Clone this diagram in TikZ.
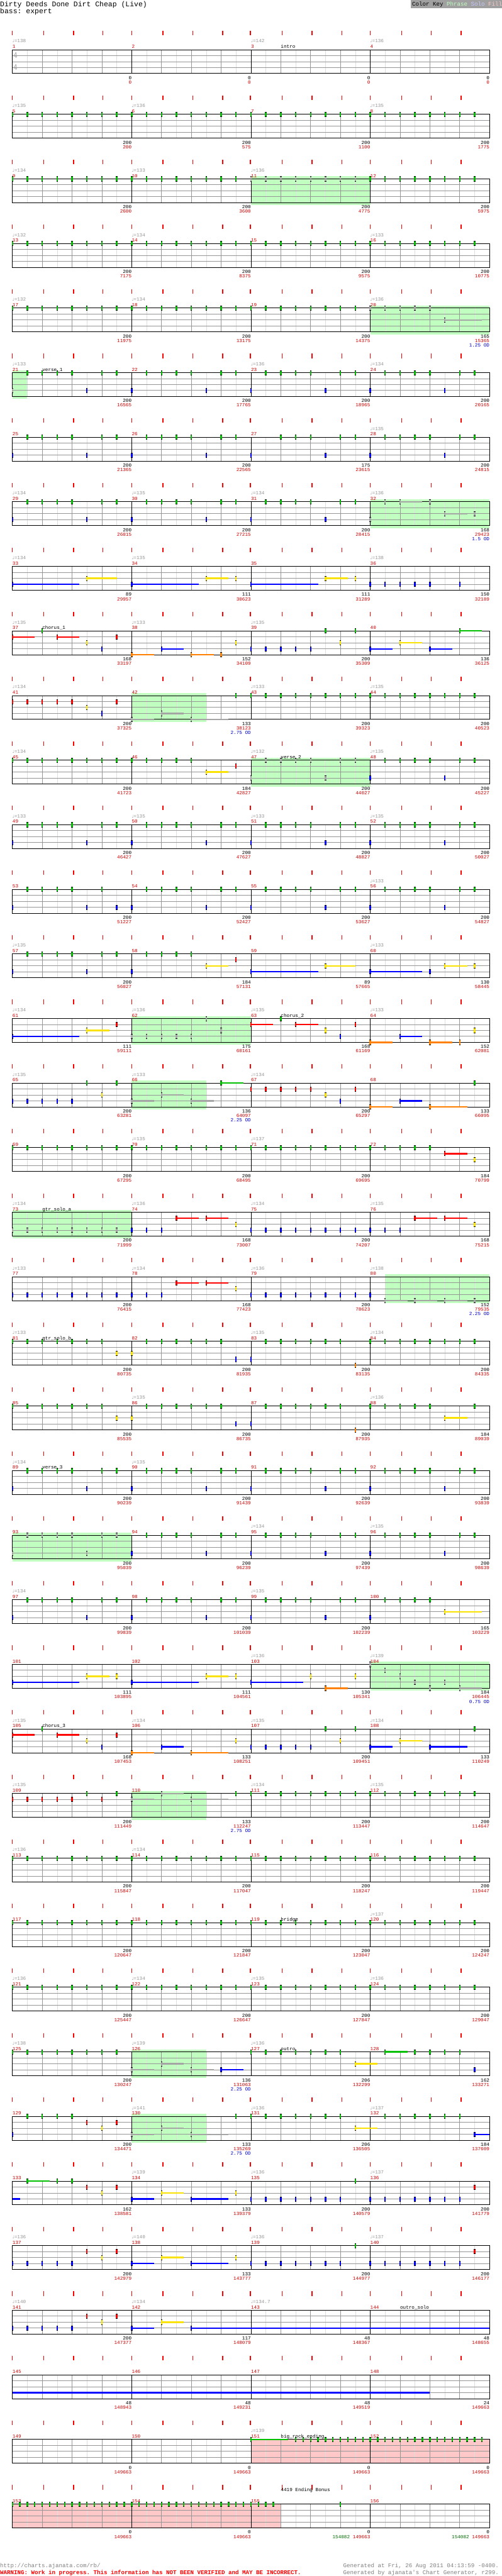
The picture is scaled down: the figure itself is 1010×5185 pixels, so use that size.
\documentclass[tikz,border=0pt]{standalone}
\usepackage{fontspec}
\setmonofont{Liberation Mono}
\newfontfamily\symfont{DejaVu Sans}
\usepackage{tikz}

\definecolor{lane0}{RGB}{0,192,0}
\definecolor{lane1}{RGB}{255,0,0}
\definecolor{lane2}{RGB}{250,226,0}
\definecolor{lane3}{RGB}{0,0,255}
\definecolor{lane4}{RGB}{255,128,0}
\definecolor{starg}{RGB}{165,165,165}
\definecolor{phrasecol}{RGB}{192,255,192}
\definecolor{fillcol}{RGB}{255,200,200}
\definecolor{solocol}{RGB}{200,200,255}
\definecolor{tickred}{RGB}{255,0,0}
\definecolor{mnumred}{RGB}{204,0,0}
\definecolor{tempogray}{RGB}{150,150,150}
\definecolor{odblue}{RGB}{0,0,204}
\definecolor{bonusgreen}{RGB}{0,110,0}
\definecolor{gridbeat}{RGB}{150,150,150}
\definecolor{gridsub}{RGB}{222,222,222}
\definecolor{keybg}{RGB}{160,160,160}
\definecolor{footgray}{RGB}{128,128,128}

\newcommand{\chartsize}{\fontsize{9.7}{10}\selectfont}
\newcommand{\tnote}{{\symfont\fontsize{8}{8}\selectfont ♩}}

% current row: top edge of the staff and row index
\newcommand{\setrow}[1]{\pgfmathtruncatemacro\rowtmp{100+130*#1}\xdef\ry{\rowtmp}\xdef\rk{#1}}
% one note (lane 0..4, position in eighths)
\newcommand{\nt}[3][]{%
  \pgfmathsetmacro\nx{25+30*(#3)}%
  \pgfmathsetmacro\ny{\ry+12*(#2)}%
  \fill[lane#2,#1] (\nx-1.5,\ny-5) rectangle (\nx+1.5,\ny+5);%
  \fill[notecap] (\nx-1.5,\ny-5) rectangle (\nx+1.5,\ny-4);%
  \fill[notecap] (\nx-1.5,\ny+4) rectangle (\nx+1.5,\ny+5);}
% sustained note
\newcommand{\sus}[4][]{%
  \pgfmathsetmacro\nx{25+30*(#3)}%
  \pgfmathsetmacro\qx{25+30*(#4)}%
  \pgfmathsetmacro\ny{\ry+12*(#2)}%
  \fill[lane#2,#1] (\nx,\ny-1.5) rectangle (\qx,\ny+1.5);%
  \nt[#1]{#2}{#3}}
% sustain carried over from the row above
\newcommand{\tail}[3]{%
  \pgfmathsetmacro\nx{25+30*(#2)}%
  \pgfmathsetmacro\qx{25+30*(#3)}%
  \pgfmathsetmacro\ny{\ry+12*(#1)}%
  \fill[lane#1] (\nx,\ny-1.5) rectangle (\qx,\ny+1.5);}
\newcommand{\run}[4][]{\foreach \p in {#3,...,#4} {\nt[#1]{#2}{\p}}}
\newcommand{\notes}[3][]{\foreach \p in {#3} {\nt[#1]{#2}{\p}}}
\newcommand{\stdbar}[2][]{%
  \foreach \p in {0,5} {\nt[#1]{3}{8*#2+\p}}%
  \foreach \p in {1,2,3,4,6,7} {\nt[#1]{0}{8*#2+\p}}}
\newcommand{\phrase}[2]{\fill[phrasezone] (25+30*#1,\ry-5) rectangle (25+30*#2,\ry+53);}
\newcommand{\fillzone}[2]{\fill[bonuszone] (25+30*#1,\ry) rectangle (25+30*#2,\ry+48);}
\newcommand{\staffgrid}[1]{%
  \foreach \i in {1,3,...,31} {\draw[subline] (25+30*\i,\ry) -- ++(0,48);}
  \foreach \i in {2,4,6,10,12,14,18,20,22,26,28,30} {\draw[beatline] (25+30*\i,\ry) -- ++(0,48);}
  \foreach \lane in {1,2,3} {\draw[laneline] (25,\ry+12*\lane) -- (985,\ry+12*\lane);}
  \foreach \i in {8,16,24} {\draw[barline] (25+30*\i,\ry) -- ++(0,48);}
  \draw[staffbox] (25,\ry) rectangle (985,\ry+48);
  \foreach \tx in {25,88,148,207,265,328,388,448,504,568,628,688,745,808,868,928}
    {\draw[beattick] (\tx,\ry-38) -- ++(0,9);}
  \foreach \mj in {0,...,3} {\pgfmathtruncatemacro\mnr{#1+\mj}
    \node[mnum,name=mn-\rk-\mj] at (25+240*\mj,\ry-3) {\mnr};}}
\newcommand{\tempos}[1]{\foreach \mj/\bpm in {#1}
  {\node[tempolbl,name=tp-\rk-\mj] at (25+240*\mj,\ry-14) {\tnote=\bpm};}}
\newcommand{\secname}[2]{\node[seclbl,name=sec-\rk] at (25+30*#1,\ry-3) {#2};}
\newcommand{\scores}[1]{\foreach \ptsb/\ptsr [count=\mj] in {#1}
  {\node[scoreblk,name=sb-\rk-\mj] at (25+240*\mj,\ry+60) {\ptsb};
   \node[scorered,name=sr-\rk-\mj] at (25+240*\mj,\ry+69) {\ptsr};}}
\newcommand{\od}[2]{\node[odlbl,name=od-\rk] at (25+240*#1,\ry+78) {#2};}

\begin{document}
\begin{tikzpicture}[x=1pt,y=-1pt,
    beattick/.style={draw=tickred,line width=1.8pt},
    subline/.style={draw=gridsub,line width=0.6pt},
    beatline/.style={draw=gridbeat,line width=0.8pt},
    laneline/.style={draw=gridbeat,line width=1.1pt},
    barline/.style={draw=black,line width=0.8pt},
    staffbox/.style={draw=black,line width=1.2pt},
    phrasezone/.style={fill=phrasecol},
    bonuszone/.style={fill=fillcol},
    notecap/.style={fill=black},
    mnum/.style={anchor=base west,inner sep=0pt,text=mnumred,font=\ttfamily\chartsize},
    tempolbl/.style={anchor=base west,inner sep=0pt,text=tempogray,font=\ttfamily\chartsize},
    seclbl/.style={anchor=base west,inner sep=0pt,text=black,font=\ttfamily\chartsize},
    scoreblk/.style={anchor=base east,inner sep=0pt,text=black,font=\ttfamily\chartsize},
    scorered/.style={anchor=base east,inner sep=0pt,text=mnumred,font=\ttfamily\chartsize},
    odlbl/.style={anchor=base east,inner sep=0pt,text=odblue,font=\ttfamily\chartsize},
    timesig/.style={inner sep=0pt,text=gray!70,font=\sffamily\fontsize{17}{17}\selectfont},
    headline/.style={anchor=base west,inner sep=0pt,font=\ttfamily\fontsize{14.5}{15}\selectfont},
    footline/.style={inner sep=0pt,font=\ttfamily\fontsize{11.6}{12}\selectfont}
  ]
  \useasboundingbox (0,0) rectangle (1010,5185);
  \fill[white] (0,0) rectangle (1010,5185);

  % Header and color key
  \node[headline] (title) at (0,13) {Dirty Deeds Done Dirt Cheap (Live)};
  \node[headline] (subtitle) at (0,27) {bass: expert};
  \fill[keybg] (826,0) rectangle (1010,16);
  \node[footline,anchor=base west] (key) at (829,12)
    {Color Key \textcolor{phrasecol}{Phrase} \textcolor{solocol}{Solo} \textcolor{fillcol}{Fill}};

  % 1-4
  \setrow{0}\staffgrid{1}
  \node[timesig] (ts-a) at (31,\ry+12) {4};
  \node[timesig] (ts-b) at (31,\ry+36) {4};
  \secname{18}{intro}
  \tempos{0/138,2/142,3/136}
  \scores{0/0,0/0,0/0,0/0}

  % 5-8
  \setrow{1}\staffgrid{5}
  \run{0}{0}{31}
  \tempos{0/135,1/136,3/135}
  \scores{200/200,200/575,200/1100,200/1775}

  % 9-12
  \setrow{2}\phrase{16}{24}\staffgrid{9}
  \run{0}{0}{15}\run[starg]{0}{16}{23}\run{0}{24}{31}
  \tempos{0/134,1/133,2/136}
  \scores{200/2600,200/3600,200/4775,200/5975}

  % 13-16
  \setrow{3}\staffgrid{13}
  \run{0}{0}{31}
  \tempos{0/132,1/134,3/133}
  \scores{200/7175,200/8375,200/9575,200/10775}

  % 17-20
  \setrow{4}\phrase{24}{32}\staffgrid{17}
  \run{0}{0}{23}\run[starg]{0}{24}{28}\sus[starg]{2}{29}{31.5}
  \tempos{0/132,1/134,3/136}
  \scores{200/11975,200/13175,200/14375,165/15365}\od{4}{1.25 OD}

  % 21-24
  \setrow{5}\phrase{0}{1}\staffgrid{21}
  \nt[starg]{3}{0}\notes{0}{1,2,3,4,6,7}\nt{3}{5}
  \stdbar{1}\stdbar{2}\stdbar{3}
  \secname{2}{verse\_1}
  \tempos{0/133,2/136,3/134}
  \scores{200/16565,200/17765,200/18965,200/20165}

  % 25-28
  \setrow{6}\staffgrid{25}
  \stdbar{0}\stdbar{1}\notes{3}{16,21}\notes{0}{18,19,20,22,23}\stdbar{3}
  \tempos{3/135}
  \scores{200/21365,200/22565,175/23615,200/24815}

  % 29-32
  \setrow{7}\phrase{24}{32}\staffgrid{29}
  \stdbar{0}\stdbar{1}\stdbar{2}
  \nt[starg]{3}{24}\nt[starg]{0}{25}\sus[starg]{0}{26}{27.5}\nt[starg]{0}{28}
  \sus[starg]{2}{29}{30.5}\nt[starg]{2}{31}
  \tempos{0/134,1/135,2/134,3/136}
  \scores{200/26015,200/27215,200/28415,168/29423}\od{4}{1.5 OD}

  % 33-36
  \setrow{8}\staffgrid{33}
  \sus{3}{0}{4.5}\sus{2}{5}{7}\sus{3}{8}{12.5}\sus{2}{13}{14.5}\nt{2}{15}
  \sus{3}{16}{20.5}\sus{2}{21}{22.5}\nt{2}{23}\notes{3}{24,25,26,27,28,30}
  \tempos{0/134,1/135,3/138}
  \scores{89/29957,111/30623,111/31289,150/32189}

  % 37-40
  \setrow{9}\staffgrid{37}
  \sus{1}{0}{1.5}\nt{0}{2}\sus{1}{3}{4.5}\nt{2}{5}\nt{3}{6}\nt{1}{7}
  \sus{4}{8}{9.5}\sus{3}{10}{11.5}\sus{4}{12}{13.5}\nt{4}{14}\nt{2}{15}
  \run{3}{16}{20}\nt{0}{21}\nt{2}{22}\nt{0}{23}
  \sus{3}{24}{25.5}\sus{2}{26}{27.5}\sus{3}{28}{29.5}\sus{0}{30}{31.5}
  \secname{2}{chorus\_1}
  \tempos{0/135,1/133,2/135}
  \scores{168/33197,152/34109,200/35309,136/36125}

  % 41-44
  \setrow{10}\phrase{8}{13}\staffgrid{41}
  \run{1}{0}{4}\nt{2}{5}\nt{3}{6}\nt{1}{7}
  \sus[starg]{4}{8}{9.5}\sus[starg]{3}{10}{11.5}\sus[starg]{4}{12}{14.5}\nt{0}{15}
  \run{0}{16}{31}
  \tempos{0/134,2/133,3/135}
  \scores{200/37325,133/38123,200/39323,200/40523}\od{2}{2.75 OD}

  % 45-48
  \setrow{11}\phrase{16}{24}\staffgrid{45}
  \run{0}{0}{12}\sus{2}{13}{14.5}\nt{1}{15}
  \stdbar[starg]{2}\stdbar{3}
  \secname{18}{verse\_2}
  \tempos{0/134,2/132,3/135}
  \scores{200/41723,184/42827,200/44027,200/45227}

  % 49-52
  \setrow{12}\staffgrid{49}
  \stdbar{0}\stdbar{1}\stdbar{2}\stdbar{3}
  \tempos{0/133,1/135,2/133,3/135}
  \scores{200/46427,200/47627,200/48827,200/50027}

  % 53-56
  \setrow{13}\staffgrid{53}
  \notes{3}{0,5,7}\notes{0}{1,2,3,4,6}\stdbar{1}\stdbar{2}\stdbar{3}
  \tempos{3/133}
  \scores{200/51227,200/52427,200/53627,200/54827}

  % 57-60
  \setrow{14}\staffgrid{57}
  \stdbar{0}\nt{3}{8}\run{0}{9}{12}\sus{2}{13}{14.5}\nt{1}{15}
  \sus{3}{16}{20.5}\sus{2}{21}{23}\sus{3}{24}{27.5}\nt{3}{28}\sus{2}{29}{30.5}\nt{2}{31}
  \tempos{0/135,3/133}
  \scores{200/56027,184/57131,89/57665,130/58445}

  % 61-64
  \setrow{15}\phrase{8}{16}\staffgrid{61}
  \sus{3}{0}{4.5}\sus{2}{5}{6.5}\nt{1}{7}
  \run[starg]{3}{8}{12}\nt[starg]{0}{13}\nt[starg]{2}{14}
  \sus{1}{16}{17.5}\nt{0}{18}\sus{1}{19}{20.5}\nt{2}{21}\nt{3}{22}\nt{1}{23}
  \sus{4}{24}{25.5}\sus{3}{26}{27.5}\sus{4}{28}{29.5}\nt{4}{30}\nt{2}{31}
  \secname{18}{chorus\_2}
  \tempos{0/134,1/136,2/135,3/133}
  \scores{111/59111,175/60161,168/61169,152/62081}

  % 65-68
  \setrow{16}\phrase{8}{13}\staffgrid{65}
  \run{3}{0}{4}\nt{0}{5}\nt{2}{6}\nt{0}{7}
  \sus[starg]{3}{8}{9.5}\sus[starg]{2}{10}{11.5}\sus[starg]{3}{12}{13.5}\sus{0}{14}{15.5}
  \run{1}{16}{20}\nt{2}{21}\nt{3}{22}\nt{1}{23}
  \sus{4}{24}{25.5}\sus{3}{26}{27.5}\sus{4}{28}{30.5}\nt{0}{31}
  \tempos{0/135,1/133,2/134}
  \scores{200/63281,136/64097,200/65297,133/66095}\od{2}{2.25 OD}

  % 69-72
  \setrow{17}\staffgrid{69}
  \run{0}{0}{28}\sus{1}{29}{30.5}\nt{2}{31}
  \tempos{1/135,2/137}
  \scores{200/67295,200/68495,200/69695,184/70799}

  % 73-76
  \setrow{18}\phrase{0}{8}\staffgrid{73}
  \run[starg]{3}{0}{7}\run{3}{8}{10}\sus{1}{11}{12.5}\sus{1}{13}{14.5}\nt{2}{15}
  \run{3}{16}{26}\sus{1}{27}{28.5}\sus{1}{29}{30.5}\nt{2}{31}
  \secname{2}{gtr\_solo\_a}
  \tempos{0/134,1/136,2/134,3/135}
  \scores{200/71999,168/73007,200/74207,168/75215}

  % 77-80
  \setrow{19}\phrase{25}{32}\staffgrid{77}
  \run{3}{0}{10}\sus{1}{11}{12.5}\sus{1}{13}{14.5}\nt{2}{15}\run{3}{16}{24}
  \sus[starg]{4}{25}{26.5}\sus[starg]{4}{27}{28.5}\sus[starg]{4}{29}{30.5}\nt[starg]{4}{31}
  \tempos{0/133,1/134,2/136,3/138}
  \scores{200/76415,168/77423,200/78623,152/79535}\od{4}{2.25 OD}

  % 81-84
  \setrow{20}\staffgrid{81}
  \run{0}{0}{6}\notes{2}{7,8}\run{0}{9}{14}\notes{3}{15,16}\run{0}{17}{22}\nt{4}{23}\run{0}{24}{31}
  \secname{2}{gtr\_solo\_b}
  \tempos{0/133,2/135,3/134}
  \scores{200/80735,200/81935,200/83135,200/84335}

  % 85-88
  \setrow{21}\staffgrid{85}
  \run{0}{0}{6}\notes{2}{7,8}\run{0}{9}{14}\notes{3}{15,16}\run{0}{17}{22}\nt{4}{23}
  \run{0}{24}{28}\sus{2}{29}{30.5}\nt{0}{31}
  \tempos{1/135,3/136}
  \scores{200/85535,200/86735,200/87935,184/89039}

  % 89-92
  \setrow{22}\staffgrid{89}
  \stdbar{0}\stdbar{1}\stdbar{2}\stdbar{3}
  \secname{2}{verse\_3}
  \tempos{0/134,1/135}
  \scores{200/90239,200/91439,200/92639,200/93839}

  % 93-96
  \setrow{23}\phrase{0}{8}\staffgrid{93}
  \stdbar[starg]{0}\stdbar{1}\stdbar{2}\stdbar{3}
  \tempos{2/134,3/135}
  \scores{200/95039,200/96239,200/97439,200/98639}

  % 97-100
  \setrow{24}\staffgrid{97}
  \stdbar{0}\stdbar{1}\stdbar{2}\nt{3}{24}\run{0}{25}{28}\sus{2}{29}{31.5}
  \tempos{0/134,2/135}
  \scores{200/99839,200/101039,200/102239,165/103229}

  % 101-104
  \setrow{25}\phrase{24}{32}\staffgrid{101}
  \sus{3}{0}{4.5}\sus{2}{5}{6.5}\nt{2}{7}\sus{3}{8}{12.5}\sus{2}{13}{14.5}\nt{2}{15}
  \sus{3}{16}{19.5}\nt{2}{20}\sus{4}{21}{22.5}\nt{2}{23}
  \nt[starg]{0}{24}\nt[starg]{1}{25}\nt[starg]{2}{26}\nt[starg]{3}{27}
  \nt[starg]{4}{28}\nt[starg]{3}{29}\sus[starg]{4}{30}{31.5}
  \tempos{2/136,3/139}
  \scores{111/103895,111/104561,130/105341,184/106445}\od{4}{0.75 OD}

  % 105-108
  \setrow{26}\staffgrid{105}
  \sus{1}{0}{1.5}\nt{0}{2}\sus{1}{3}{4.5}\nt{2}{5}\nt{3}{6}\nt{1}{7}
  \sus{4}{8}{9.5}\sus{3}{10}{11.5}\sus{4}{12}{14.5}\nt{2}{15}
  \run{3}{16}{20}\nt{0}{21}\nt{2}{22}\nt{0}{23}
  \sus{3}{24}{25.5}\sus{2}{26}{27.5}\sus{3}{28}{30.5}\nt{0}{31}
  \secname{2}{chorus\_3}
  \tempos{0/135,1/134,2/135,3/134}
  \scores{168/107453,133/108251,200/109451,133/110249}

  % 109-112
  \setrow{27}\phrase{8}{13}\staffgrid{109}
  \run{1}{0}{4}\nt{0}{5}\nt{1}{6}\nt{0}{7}
  \sus[starg]{1}{8}{9.5}\sus[starg]{0}{10}{11.5}\sus[starg]{1}{12}{14.5}\nt{0}{15}
  \run{0}{16}{31}
  \tempos{0/135,2/134,3/135}
  \scores{200/111449,133/112247,200/113447,200/114647}\od{2}{2.75 OD}

  % 113-116
  \setrow{28}\staffgrid{113}
  \run{0}{0}{31}
  \tempos{0/136,1/134}
  \scores{200/115847,200/117047,200/118247,200/119447}

  % 117-120
  \setrow{29}\staffgrid{117}
  \run{0}{0}{31}
  \secname{18}{bridge}
  \tempos{3/137}
  \scores{200/120647,200/121847,200/123047,200/124247}

  % 121-124
  \setrow{30}\staffgrid{121}
  \run{0}{0}{31}
  \tempos{0/136,1/134,2/135,3/136}
  \scores{200/125447,200/126647,200/127847,200/129047}

  % 125-128
  \setrow{31}\phrase{8}{13}\staffgrid{125}
  \run{0}{0}{7}\sus[starg]{3}{8}{9.5}\sus[starg]{2}{10}{11.5}\sus[starg]{3}{12}{13.5}\sus{3}{14}{15.5}
  \run{0}{16}{22}\sus{2}{23}{24.5}\sus{0}{25}{26.5}\run{0}{27}{30}\nt{3}{31}
  \secname{18}{outro}
  \tempos{0/138,1/139,2/136}
  \scores{200/130247,136/131063,206/132299,162/133271}\od{2}{2.25 OD}

  % 129-132
  \setrow{32}\phrase{8}{13}\staffgrid{129}
  \nt{3}{0}\run{0}{1}{4}\nt{1}{5}\nt{2}{6}\nt{1}{7}
  \sus[starg]{3}{8}{9.5}\sus[starg]{2}{10}{11.5}\sus[starg]{3}{12}{14.5}\nt{0}{15}
  \run{0}{16}{22}\sus{2}{23}{24.5}\run{0}{25}{30}\sus{3}{31}{32}
  \tempos{1/141,2/136,3/137}
  \scores{200/134471,133/135269,206/136505,184/137609}\od{2}{2.75 OD}

  % 133-136
  \setrow{33}\staffgrid{133}
  \tail{3}{0}{0.5}\sus{0}{1}{2.5}\notes{0}{3,4}\nt{1}{5}\nt{2}{6}\nt{1}{7}
  \sus{3}{8}{9.5}\sus{2}{10}{11.5}\sus{3}{12}{14.5}\nt{2}{15}
  \run{3}{16}{22}\nt{0}{23}\run{3}{24}{30}\nt{1}{31}
  \tempos{1/139,2/136,3/137}
  \scores{162/138581,133/139379,200/140579,200/141779}

  % 137-140
  \setrow{34}\staffgrid{137}
  \run{3}{0}{4}\nt{1}{5}\nt{2}{6}\nt{1}{7}
  \sus{3}{8}{9.5}\sus{2}{10}{11.5}\sus{3}{12}{14.5}\nt{2}{15}
  \run{3}{16}{22}\nt{0}{23}\run{3}{24}{30}\nt{1}{31}
  \tempos{0/136,1/140,2/136,3/137}
  \scores{200/142979,133/143777,200/144977,200/146177}

  % 141-144
  \setrow{35}\staffgrid{141}
  \run{3}{0}{4}\nt{1}{5}\nt{2}{6}\nt{1}{7}
  \sus{3}{8}{9.5}\sus{2}{10}{11.5}\sus{3}{12}{32}
  \secname{26}{outro\_solo}
  \tempos{0/140,1/134,2/134.7}
  \scores{200/147377,117/148079,48/148367,48/148655}

  % 145-148
  \setrow{36}\staffgrid{145}
  \tail{3}{0}{28}
  \scores{48/148943,48/149231,48/149519,24/149663}

  % 149-152
  \setrow{37}\fillzone{16}{32}\staffgrid{149}
  \sus{0}{16}{18.5}\foreach \p in {19,19.5,...,31.5} {\nt{0}{\p}}
  \secname{18}{big\_rock\_ending}
  \tempos{2/139}
  \scores{0/149663,0/149663,0/149663,0/149663}

  % 153-156
  \setrow{38}\fillzone{0}{18}\staffgrid{153}
  \foreach \p in {0,0.5,...,17.5} {\nt{0}{\p}}\nt{0}{22}
  \node[seclbl] (bonus) at (565,\ry-25) {4419 Ending Bonus};
  \scores{0/149663,0/149663,0/{\textcolor{bonusgreen}{154082} 149663},0/{\textcolor{bonusgreen}{154082} 149663}}

  % Footer
  \node[footline,anchor=base west,text=footgray] (url) at (0,5168) {http://charts.ajanata.com/rb/};
  \node[footline,anchor=base west,text=red,font=\ttfamily\bfseries\fontsize{11.6}{12}\selectfont] (warn) at (0,5182)
    {WARNING: Work in progress. This information has NOT BEEN VERIFIED and MAY BE INCORRECT.};
  \node[footline,anchor=base east,text=footgray] (gen-a) at (1004,5168) {Generated at Fri, 26 Aug 2011 04:13:59 -0400.};
  \node[footline,anchor=base east,text=footgray] (gen-b) at (1004,5182) {Generated by ajanata's Chart Generator, r299.};
\end{tikzpicture}
\end{document}
